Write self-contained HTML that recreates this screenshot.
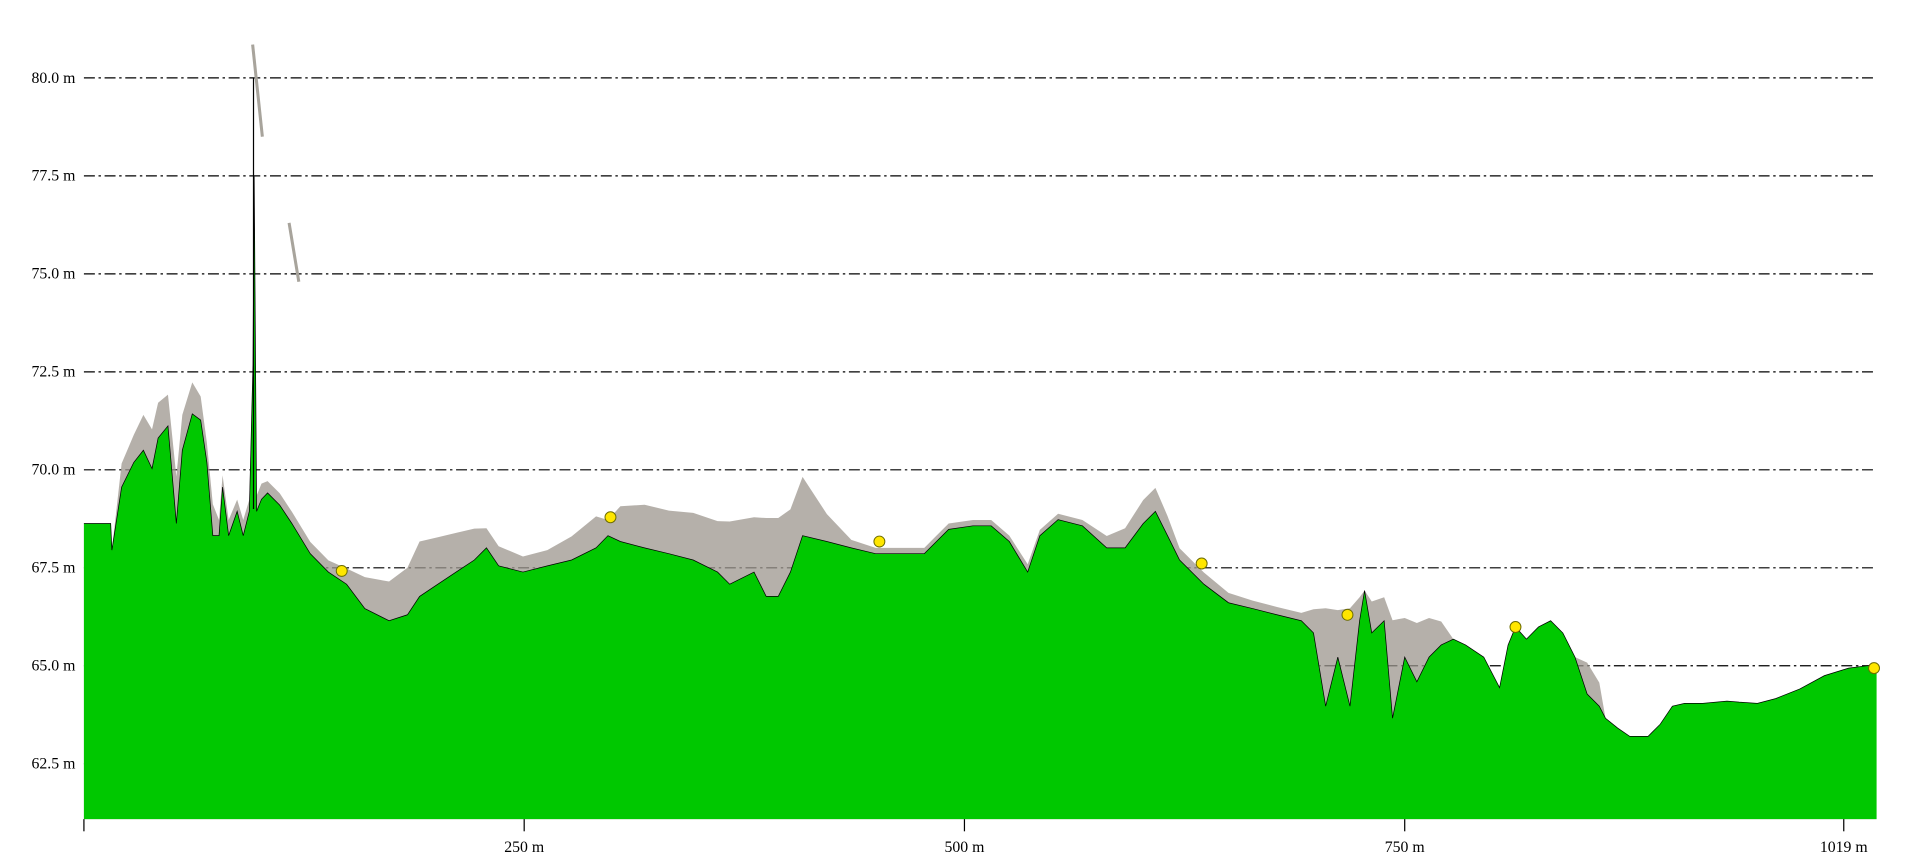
<!DOCTYPE html>
<html><head><meta charset="utf-8"><style>
html,body{margin:0;padding:0;background:#fff;width:1907px;height:852px;overflow:hidden}
svg{display:block}
text{font-family:"Liberation Serif",serif;font-size:13px;fill:#000}
</style></head><body>
<svg id="chart" width="1907" height="852" viewBox="0 0 1568 700" preserveAspectRatio="none" xmlns="http://www.w3.org/2000/svg">
<g id="grid"></g>
<g id="veg"></g>
<g id="ground"></g>
<g id="marks"></g>
<g id="axes"></g>
</svg>
<script>
const distances=[0,15.2,15.9,21.4,28.3,33.8,38.7,42.1,47.7,52.5,55.9,61.5,66.3,69.8,73.2,76.7,78.7,82.2,87.0,90.5,93.9,96.0,96.7,98.1,100.8,104.3,111.2,118.1,128.5,138.8,149.2,159.5,173.3,183.7,190.6,201.0,211.3,221.7,228.6,235.5,249.3,263.1,276.9,290.8,297.6,304.6,318.4,332.2,346.0,359.8,366.7,380.5,387.4,394.3,401.2,408.1,421.9,435.8,449.6,463.4,477.2,484.1,491.0,504.8,515.2,525.5,535.9,542.8,553.2,567.0,580.8,591.2,601.5,608.4,615.3,622.2,636.0,649.9,663.7,677.5,691.3,698.2,705.1,712.0,718.9,724.4,727.2,731.3,738.3,743.1,750.0,756.9,763.8,770.7,777.6,784.5,794.9,803.9,808.7,812.9,819.1,826.0,832.9,839.8,846.7,853.6,860.5,864.0,870.9,877.8,888.2,895.1,902.0,908.9,919.2,933.0,939.9,950.3,960.6,974.4,988.3,1002.1,1017.9];
const elevations=[68.63,68.63,67.95,69.56,70.19,70.50,70.03,70.81,71.12,68.63,70.50,71.43,71.27,70.19,68.32,68.32,69.56,68.32,68.94,68.32,68.94,72.67,77.48,68.94,69.25,69.41,69.10,68.63,67.86,67.39,67.08,66.46,66.15,66.30,66.77,67.08,67.39,67.70,68.01,67.55,67.39,67.55,67.70,68.01,68.32,68.17,68.01,67.86,67.70,67.39,67.08,67.39,66.77,66.77,67.39,68.32,68.17,68.01,67.86,67.86,67.86,68.17,68.48,68.57,68.57,68.17,67.39,68.32,68.73,68.57,68.01,68.01,68.63,68.94,68.32,67.70,67.08,66.61,66.46,66.30,66.15,65.84,63.97,65.22,63.97,66.15,66.92,65.84,66.15,63.66,65.22,64.59,65.22,65.53,65.68,65.53,65.22,64.44,65.53,65.99,65.68,65.99,66.15,65.84,65.22,64.28,63.97,63.66,63.41,63.20,63.20,63.51,63.97,64.04,64.04,64.10,64.07,64.04,64.16,64.41,64.75,64.94,65.03];
const canopyHeight=[0,0,0,0.6,0.7,0.9,1.0,0.9,0.8,1.2,0.9,0.8,0.6,0.5,0.8,0.4,0.3,0.4,0.3,0.4,0.3,0,0,0.4,0.4,0.3,0.3,0.3,0.3,0.3,0.4,0.8,1.0,1.2,1.4,1.2,1.0,0.8,0.5,0.5,0.4,0.4,0.6,0.8,0.4,0.9,1.1,1.1,1.2,1.3,1.6,1.4,2.0,2.0,1.6,1.5,0.7,0.2,0.15,0.15,0.15,0.15,0.15,0.15,0.15,0.15,0.2,0.15,0.15,0.15,0.3,0.5,0.6,0.6,0.5,0.3,0.3,0.25,0.2,0.2,0.2,0.6,2.5,1.2,2.5,0.6,0,0.8,0.6,2.5,1.0,1.5,1.0,0.6,0,0,0,0,0,0,0,0,0,0,0,0.8,0.6,0,0,0,0,0,0,0,0,0,0,0,0,0,0,0,0];
const markerDist=[146.4,299.0,451.7,634.7,717.5,812.9,1016.5];
const markerElev=[67.42,68.79,68.17,67.61,66.30,65.99,64.94];
const yTicks=[62.5,65.0,67.5,70.0,72.5,75.0,77.5,80.0];
const yTickLabels=["62.5 m","65.0 m","67.5 m","70.0 m","72.5 m","75.0 m","77.5 m","80.0 m"];
const xTicks=[250,500,750,1000];
const xTickLabels=["250 m","500 m","750 m","1019 m"];
const streakDist=[95.8,116.5];
const streakTop=[80.85,76.3];
const streakBottom=[78.5,74.8];

const NS="http://www.w3.org/2000/svg";
const X0=69,X1=1543,YB=673;
const xS=d=>X0+d*1.448;
const yS=e=>64+(80-e)*32.2;
function mk(tag,attrs,parent){const el=document.createElementNS(NS,tag);for(const k in attrs)el.setAttribute(k,attrs[k]);parent.appendChild(el);return el;}
const grid=document.getElementById('grid'),veg=document.getElementById('veg'),ground=document.getElementById('ground'),marks=document.getElementById('marks'),axes=document.getElementById('axes');

yTicks.forEach((v,i)=>{
  const l=mk('line',{x1:X0,x2:X1,y1:yS(v),y2:yS(v),stroke:'#000','stroke-width':1,'stroke-dasharray':'9,3,2,3'},grid);
  
  
  const t=mk('text',{x:X0-7,y:yS(v)+4,'text-anchor':'end'},axes);
  t.textContent=yTickLabels[i];
  
  
});

let vp=distances.map((d,i)=>xS(d).toFixed(1)+','+yS(elevations[i]+canopyHeight[i]).toFixed(1));
let vpath='M'+xS(0)+','+YB+' L'+vp.join(' L')+' L'+xS(distances[distances.length-1])+','+YB+' Z';
const vg=mk('path',{d:vpath,fill:'#9c968e',opacity:0.75},veg);


streakDist.forEach((d,i)=>{
  const s=mk('line',{x1:xS(d),x2:xS(d)+8,y1:yS(streakTop[i]),y2:yS(streakBottom[i]),stroke:'#a8a49c','stroke-width':2.5},veg);
  
  
});

let gp=distances.map((d,i)=>xS(d).toFixed(1)+','+yS(elevations[i]).toFixed(1));
const gArea=mk('path',{d:'M'+xS(0)+','+YB+' L'+gp.join(' L')+' L'+X1+','+yS(elevations[elevations.length-1])+' L'+X1+','+YB+' Z',fill:'#00c800'},ground);


const gLine=mk('path',{d:'M'+gp.join(' L'),fill:'none',stroke:'#000','stroke-width':0.6},ground);


const pole=mk('line',{x1:xS(96.3),x2:xS(96.3),y1:yS(80),y2:yS(69),stroke:'#000','stroke-width':1},ground);



markerDist.forEach((d,i)=>{
  const c=mk('circle',{cx:xS(d),cy:yS(markerElev[i]),r:4.5,fill:'#ffe600',stroke:'#6b6b00','stroke-width':0.8},marks);
  
  
});

const la=mk('line',{x1:X0,x2:X0,y1:YB,y2:YB+10,stroke:'#000'},axes);


xTicks.forEach((v,i)=>{
  const tx=i===xTicks.length-1?1516:xS(v);
  const tk=mk('line',{x1:tx,x2:tx,y1:YB,y2:YB+10,stroke:'#000'},axes);
  
  
  const t=mk('text',{x:tx,y:YB+27,'text-anchor':'middle'},axes);
  t.textContent=xTickLabels[i];
  
  
});
</script>
</body></html>
